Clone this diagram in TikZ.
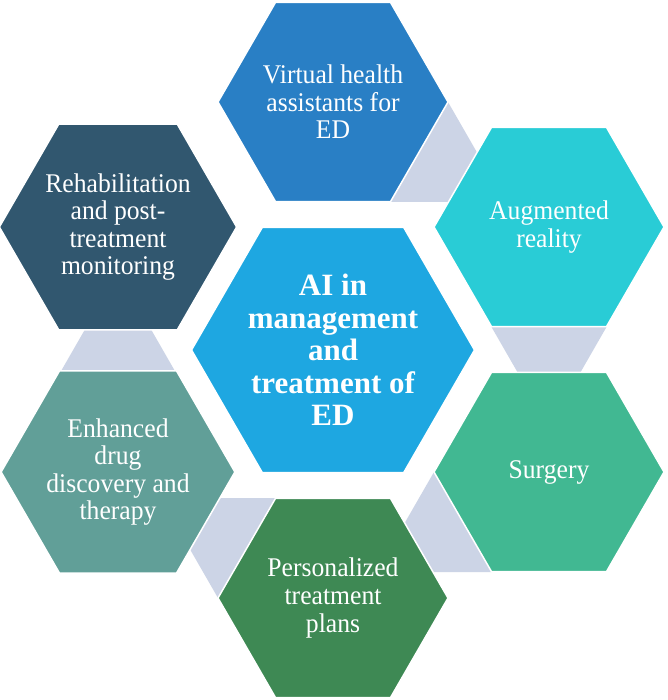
\documentclass[tikz,border=0pt]{standalone}
\usepackage{fontspec}
\setmainfont{Liberation Serif}
\newfontfamily\outerfont[FakeStretch=0.95]{Liberation Serif}
\usetikzlibrary{shapes.geometric,calc,backgrounds}
\definecolor{cTop}{RGB}{41,127,197}
\definecolor{cAug}{RGB}{41,204,214}
\definecolor{cSurg}{RGB}{65,184,146}
\definecolor{cPers}{RGB}{62,137,84}
\definecolor{cEnh}{RGB}{97,159,152}
\definecolor{cReh}{RGB}{49,87,111}
\definecolor{cCen}{RGB}{30,167,225}
\definecolor{linkgrey}{RGB}{204,212,230}
\begin{document}
\begin{tikzpicture}[x=1pt,y=-1pt,
  hexo/.style={regular polygon, regular polygon sides=6, minimum size=230pt,
    inner sep=0pt, outer sep=0pt, draw=white, line width=1.5pt, text=white,
    align=center, font=\outerfont\fontsize{27}{27.5}\selectfont},
  hexc/.style={hexo, minimum size=283pt, font=\bfseries\fontsize{31}{32.5}\selectfont},
  linkshape/.style={fill=linkgrey}]
\useasboundingbox (0,0) rectangle (667,700);

\node[hexc, fill=cCen] (cen) at (333,350) {AI in\\management\\and\\treatment of\\ED};
\node[hexo, fill=cTop] (vha) at (333,102) {Virtual health\\assistants for\\ED};
\node[hexo, fill=cAug] (aug) at (549,227) {Augmented\\reality};
\node[hexo, fill=cSurg] (sur) at (549,472) {Surgery};
\node[hexo, fill=cPers] (per) at (333,598) {Personalized\\treatment\\plans};
\node[hexo, fill=cEnh] (enh) at (118,472) {Enhanced\\drug\\discovery and\\therapy};
\node[hexo, fill=cReh] (reh) at (118,227) {Rehabilitation\\and post-\\treatment\\monitoring};

\begin{pgfonlayer}{background}
\fill[white] (0,0) rectangle (667,700);
\fill[linkshape] ($(vha)+(115,0)$) -- ($(vha)+(57.5,100)$) -- ($(vha)+(172.5,100)$) -- cycle;
\fill[linkshape] ($(aug)+(-57.5,100)$) -- ($(aug)+(57.5,100)$) -- ($(aug)+(0,200)$) -- cycle;
\fill[linkshape] ($(sur)+(-115,0)$) -- ($(sur)+(-57.5,100)$) -- ($(sur)+(-172.5,100)$) -- cycle;
\fill[linkshape] ($(per)+(-115,0)$) -- ($(per)+(-57.5,-100)$) -- ($(per)+(-172.5,-100)$) -- cycle;
\fill[linkshape] ($(enh)+(-57.5,-100)$) -- ($(enh)+(57.5,-100)$) -- ($(enh)+(0,-200)$) -- cycle;
\end{pgfonlayer}
\end{tikzpicture}
\end{document}
